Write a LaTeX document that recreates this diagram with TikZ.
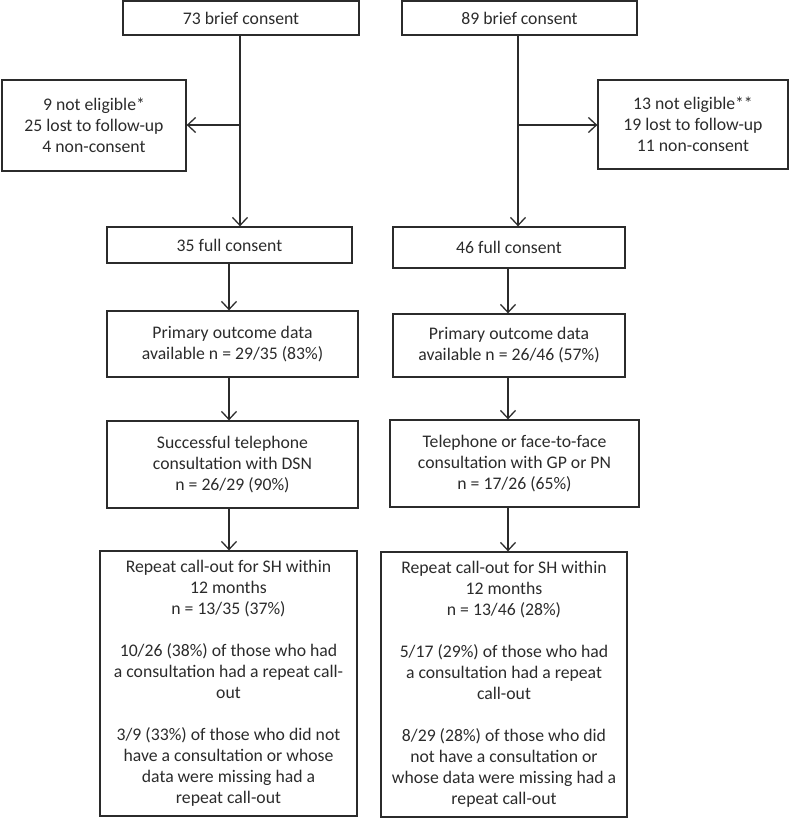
\documentclass[tikz,border=0pt]{standalone}
\usepackage{fontspec}
\setmainfont{Carlito}
\usetikzlibrary{arrows.meta}
\definecolor{ink}{HTML}{2B2B2B}
\tikzset{
  box/.style={draw=ink, line width=1.3bp, rectangle, inner sep=0pt, align=center,
    text=ink, font=\fontsize{17.7bp}{21bp}\selectfont},
  conn/.style={draw=ink, line width=1.4bp, -{Straight Barb[length=8bp,width=15bp,line width=1.3bp]}},
  plain/.style={draw=ink, line width=1.4bp}
}
\begin{document}
\begin{tikzpicture}[x=1bp,y=-1bp]
\useasboundingbox (0,0) rectangle (789,818);
% left column
\node[box, minimum width=236bp, minimum height=34bp] (a1) at (241,18) {73 brief consent};
\node[box, minimum width=184bp, minimum height=91bp] (l1) at (94,125.5) {9 not eligible*\\25 lost to follow-up\\4 non-consent};
\node[box, minimum width=245bp, minimum height=36bp] (a2) at (229.5,245) {35 full consent};
\node[box, minimum width=251bp, minimum height=66bp] (a3) at (232.5,344) {Primary outcome data\\available n = 29/35 (83\%)};
\node[box, minimum width=251bp, minimum height=87bp] (a4) at (232.5,464.5) {Successful telephone\\consultation with DSN\\n = 26/29 (90\%)};
\node[box, minimum width=257bp, minimum height=265bp] (a5) at (228.5,683.5) {Repeat call-out for SH within\\12 months\\n = 13/35 (37\%)\\[21bp]10/26 (38\%) of those who had\\a consultation had a repeat call-\\out\\[21bp]3/9 (33\%) of those who did not\\have a consultation or whose\\data were missing had a\\repeat call-out};
% right column
\node[box, minimum width=235bp, minimum height=34bp] (b1) at (519.5,18) {89 brief consent};
\node[box, minimum width=190bp, minimum height=89bp] (r1) at (693,124.5) {13 not eligible**\\19 lost to follow-up\\11 non-consent};
\node[box, minimum width=232bp, minimum height=41bp] (b2) at (509,247.5) {46 full consent};
\node[box, minimum width=232bp, minimum height=63bp] (b3) at (509,345.5) {Primary outcome data\\available n = 26/46 (57\%)};
\node[box, minimum width=249bp, minimum height=87bp] (b4) at (514.5,463.5) {Telephone or face-to-face\\consultation with GP or PN\\n = 17/26 (65\%)};
\node[box, minimum width=246bp, minimum height=265bp] (b5) at (504,684.5) {Repeat call-out for SH within\\12 months\\n = 13/46 (28\%)\\[21bp]5/17 (29\%) of those who had\\a consultation had a repeat\\call-out\\[21bp]8/29 (28\%) of those who did\\not have a consultation or\\whose data were missing had a\\repeat call-out};
% connectors left
\coordinate (ja) at (240,125);
\draw[plain] (a1.south -| ja) -- (ja);
\draw[conn] (ja) -- (a2.north -| ja);
\draw[conn] (ja) -- (l1.east |- ja);
\coordinate (xa) at (229,0);
\draw[conn] (a2.south -| xa) -- (a3.north -| xa);
\draw[conn] (a3.south -| xa) -- (a4.north -| xa);
\draw[conn] (a4.south -| xa) -- (a5.north -| xa);
% connectors right
\coordinate (jb) at (518,125);
\draw[plain] (b1.south -| jb) -- (jb);
\draw[conn] (jb) -- (b2.north -| jb);
\draw[conn] (jb) -- (r1.west |- jb);
\coordinate (xb) at (508,0);
\draw[conn] (b2.south -| xb) -- (b3.north -| xb);
\draw[conn] (b3.south -| xb) -- (b4.north -| xb);
\draw[conn] (b4.south -| xb) -- (b5.north -| xb);
\end{tikzpicture}
\end{document}
